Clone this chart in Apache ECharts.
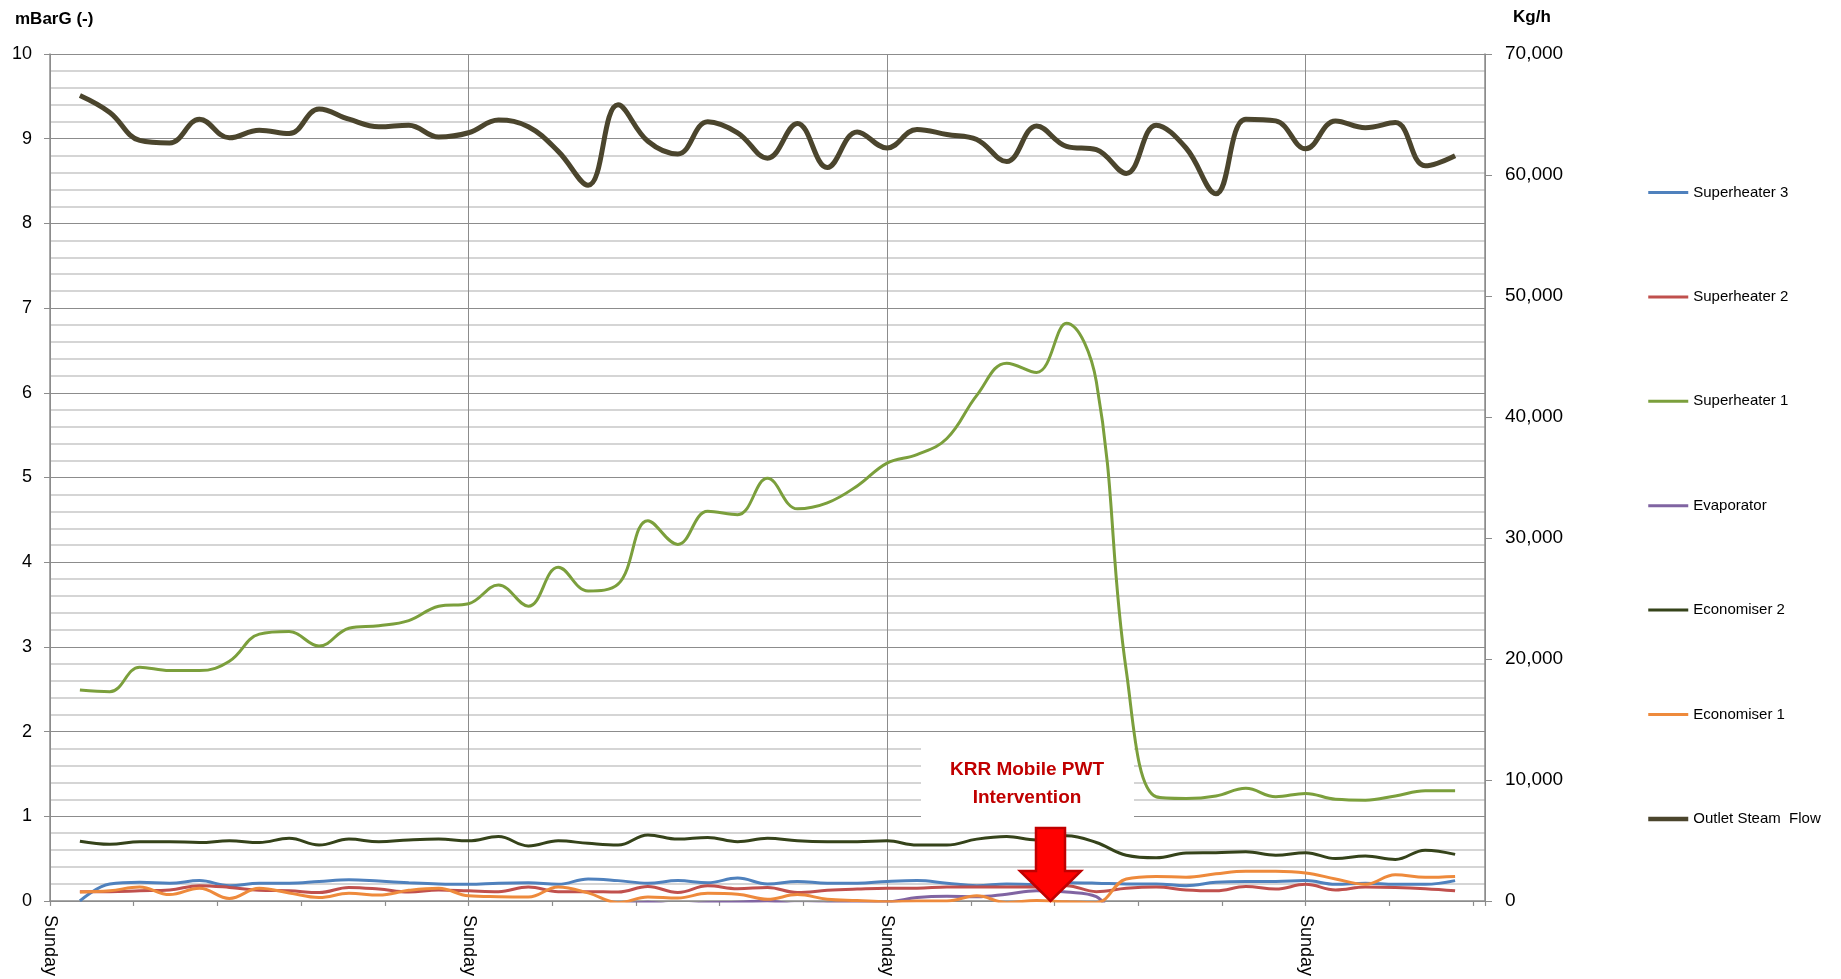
<!DOCTYPE html>
<html>
<head>
<meta charset="utf-8">
<title>Boiler pressure drop and outlet steam flow</title>
<script src="https://cdn.jsdelivr.net/npm/echarts@6/dist/echarts.min.js"></script>
<style>
  html, body { margin: 0; padding: 0; background: #fff; }
  #chart { width: 1841px; height: 979px; }
</style>
</head>
<body>
<div id="chart"></div>
<script>
// x slots: 70 slots per week, Sunday to Sunday
const weekSlots = 70
const slots = [5, 10, 15, 20, 25, 30, 35, 40, 45, 50, 55, 60, 65, 70, 75, 80, 85, 90, 95, 100,
  105, 110, 115, 120, 125, 130, 135, 140, 145, 150, 155, 160, 165, 170, 175, 180, 185, 190, 195, 200,
  205, 210, 215, 220, 225, 230, 235]

// pressure drops, mBarG
const superheater3 = [0.00, 0.20, 0.22, 0.21, 0.24, 0.18, 0.21, 0.21, 0.23, 0.25, 0.235, 0.215, 0.20, 0.196, 0.21,
  0.215, 0.196, 0.26, 0.24, 0.21, 0.24, 0.215, 0.27, 0.20, 0.23, 0.21, 0.21, 0.23, 0.24, 0.21,
  0.18, 0.20, 0.195, 0.215, 0.21, 0.20, 0.20, 0.18, 0.22, 0.23, 0.23, 0.24, 0.196, 0.21, 0.196, 0.196, 0.24]
const superheater2 = [0.11, 0.11, 0.12, 0.13, 0.18, 0.16, 0.125, 0.12, 0.10, 0.16, 0.14, 0.105, 0.13, 0.12, 0.11,
  0.165, 0.11, 0.11, 0.105, 0.17, 0.10, 0.18, 0.145, 0.16, 0.10, 0.125, 0.14, 0.15, 0.15, 0.165,
  0.165, 0.165, 0.165, 0.18, 0.11, 0.15, 0.165, 0.13, 0.12, 0.17, 0.14, 0.196, 0.13, 0.165, 0.16, 0.145, 0.12]
const superheater1 = [2.49, 2.47, 2.76, 2.72, 2.72, 2.83, 3.15, 3.18, 3.01, 3.22, 3.25, 3.31, 3.48, 3.51, 3.73,
  3.48, 3.94, 3.66, 3.74, 4.49, 4.21, 4.60, 4.56, 4.99, 4.63, 4.70, 4.90, 5.17, 5.27, 5.46,
  5.97, 6.35, 6.24, 6.82, 6.13, 2.72, 1.23, 1.21, 1.24, 1.33, 1.23, 1.27, 1.20, 1.19, 1.24, 1.30, 1.30]
const evaporator = [-0.1, -0.1, -0.1, -0.1, -0.1, -0.1, -0.1, -0.1, -0.1, -0.1, -0.1, -0.1, -0.1, -0.1, -0.1,
  -0.1, -0.1, -0.08, -0.05, -0.015, -0.05, -0.02, -0.015, 0.0, -0.04, -0.03, -0.015, -0.01, 0.04, 0.055,
  0.05, 0.08, 0.12, 0.105, 0.05, -0.3, -0.3, -0.3, -0.3, -0.3, -0.3, -0.3, -0.3, -0.3, -0.3, -0.3, -0.3]
const economiser2 = [0.706, 0.67, 0.70, 0.70, 0.69, 0.71, 0.69, 0.74, 0.66, 0.73, 0.70, 0.72, 0.73, 0.71, 0.76,
  0.65, 0.71, 0.68, 0.66, 0.78, 0.73, 0.75, 0.70, 0.74, 0.71, 0.70, 0.70, 0.71, 0.66, 0.66,
  0.73, 0.76, 0.72, 0.77, 0.69, 0.54, 0.51, 0.565, 0.57, 0.58, 0.54, 0.57, 0.50, 0.53, 0.49, 0.60, 0.55]
const economiser1 = [0.105, 0.12, 0.165, 0.075, 0.15, 0.03, 0.15, 0.095, 0.04, 0.09, 0.07, 0.125, 0.15, 0.06, 0.05,
  0.047, 0.165, 0.095, -0.02, 0.047, 0.035, 0.09, 0.08, 0.02, 0.075, 0.02, 0.005, -0.01, 0.0, 0.0,
  0.06, -0.02, 0.005, -0.01, -0.02, 0.26, 0.29, 0.28, 0.32, 0.35, 0.35, 0.33, 0.26, 0.196, 0.31, 0.28, 0.29]

// outlet steam flow, kg/h (right axis)
const steamFlow = [66570, 65170, 62860, 62650, 64610, 63070, 63700, 63420, 65450, 64610, 63980, 64120, 63140, 63490, 64540,
  63980, 61950, 59150, 65800, 62790, 61740, 64400, 63490, 61390, 64260, 60620, 63560, 62230, 63770, 63350,
  62930, 61110, 64050, 62370, 62090, 60130, 64120, 62230, 58450, 64610, 64470, 62160, 64470, 63910, 64330, 60760, 61600]

const dayLabel = 'Sunday'

const FONT = '"Liberation Sans", Arial, sans-serif'
const gridColor = '#8c8c8c'

const pressureSeries = [
  { name: 'Superheater 3', data: superheater3, color: '#4f81bd' },
  { name: 'Superheater 2', data: superheater2, color: '#c0504d' },
  { name: 'Superheater 1', data: superheater1, color: '#7b9f3c' },
  { name: 'Evaporator', data: evaporator, color: '#8064a2' },
  { name: 'Economiser 2', data: economiser2, color: '#35431a' },
  { name: 'Economiser 1', data: economiser1, color: '#ee8a3c' }
]

const series = pressureSeries.map(s => ({
  name: s.name,
  type: 'line',
  xAxisIndex: 0,
  yAxisIndex: 0,
  smooth: 0.4,
  symbol: 'none',
  color: s.color,
  lineStyle: { color: s.color, width: 3 },
  data: slots.map((x, k) => [x, s.data[k]])
}))

series.push({
  name: 'Outlet Steam  Flow',
  type: 'line',
  xAxisIndex: 0,
  yAxisIndex: 1,
  smooth: 0.4,
  symbol: 'none',
  color: '#4b452d',
  lineStyle: { color: '#4b452d', width: 5 },
  data: slots.map((x, k) => [x, steamFlow[k]])
})

const chart = echarts.init(document.getElementById('chart'))

chart.setOption({
  backgroundColor: '#fff',
  animation: false,
  textStyle: { fontFamily: FONT },
  title: [
    {
      text: 'mBarG (-)',
      left: 10, top: 6,
      textStyle: { fontSize: 17, fontWeight: 'bold', color: '#000', fontFamily: FONT }
    },
    {
      text: 'Kg/h',
      left: 1508, top: 4,
      textStyle: { fontSize: 17, fontWeight: 'bold', color: '#000', fontFamily: FONT }
    }
  ],
  legend: {
    orient: 'vertical',
    left: 1641,
    top: 180,
    itemWidth: 40,
    itemHeight: 14,
    itemGap: 89.4,
    itemStyle: { opacity: 0 },
    textStyle: { fontSize: 15, color: '#000', fontFamily: FONT },
    data: series.map(s => ({ name: s.name, lineStyle: { width: s.lineStyle.width === 5 ? 4.5 : 3 } }))
  },
  grid: { left: 50, right: 356, top: 54, bottom: 75, containLabel: false },
  xAxis: [
    {
      type: 'value',
      min: 0,
      max: 240,
      interval: weekSlots,
      axisLine: { show: true, onZero: false, lineStyle: { color: gridColor, width: 1.5 } },
      axisTick: { show: false },
      splitLine: { show: true, lineStyle: { color: gridColor, width: 1 } },
      axisLabel: {
        rotate: -90,
        margin: 14,
        fontSize: 18,
        color: '#000',
        fontFamily: FONT,
        formatter: v => (v % weekSlots === 0 && v < 240 ? dayLabel : '')
      }
    },
    {
      // tick marks every 14 slots
      type: 'value',
      position: 'bottom',
      min: 0,
      max: 240,
      interval: 14,
      axisLine: { show: false, onZero: false },
      axisTick: { show: true, length: 5, lineStyle: { color: gridColor, width: 1.2 } },
      axisLabel: { show: false },
      splitLine: { show: false }
    }
  ],
  yAxis: [
    {
      type: 'value',
      min: 0,
      max: 10,
      interval: 1,
      axisLine: { show: true, onZero: false, lineStyle: { color: gridColor, width: 1.5 } },
      axisTick: { show: true, length: 6, lineStyle: { color: gridColor } },
      axisLabel: { margin: 18, fontSize: 18, color: '#000', fontFamily: FONT },
      splitLine: { show: true, lineStyle: { color: gridColor, width: 1.2 } },
      minorTick: { show: false, splitNumber: 5 },
      minorSplitLine: { show: true, lineStyle: { color: '#c8c8c8', width: 1.5 } }
    },
    {
      type: 'value',
      min: 0,
      max: 70000,
      interval: 10000,
      position: 'right',
      axisLine: { show: true, onZero: false, lineStyle: { color: gridColor, width: 1.5 } },
      axisTick: { show: true, length: 7, lineStyle: { color: gridColor } },
      axisLabel: {
        margin: 20,
        fontSize: 19,
        color: '#000',
        fontFamily: FONT,
        formatter: v => v.toLocaleString('en-US')
      },
      splitLine: { show: false }
    }
  ],
  series: series,
  graphic: [
    // white label box over the grid
    {
      type: 'rect',
      z: 1,
      shape: { x: 921, y: 742, width: 213, height: 84 },
      style: { fill: '#fff' }
    },
    {
      type: 'text',
      z: 100,
      x: 1027,
      y: 784,
      style: {
        text: 'KRR Mobile PWT\nIntervention',
        fill: '#c00000',
        font: 'bold 19px ' + FONT,
        textAlign: 'center',
        textVerticalAlign: 'middle',
        lineHeight: 28
      }
    },
    {
      type: 'polygon',
      z: 100,
      shape: {
        points: [[1036, 828], [1065, 828], [1065, 871], [1081, 871], [1050.5, 901], [1020, 871], [1036, 871]]
      },
      style: { fill: '#ff0000', stroke: '#c00000', lineWidth: 2.5 }
    }
  ]
})
</script>
</body>
</html>
